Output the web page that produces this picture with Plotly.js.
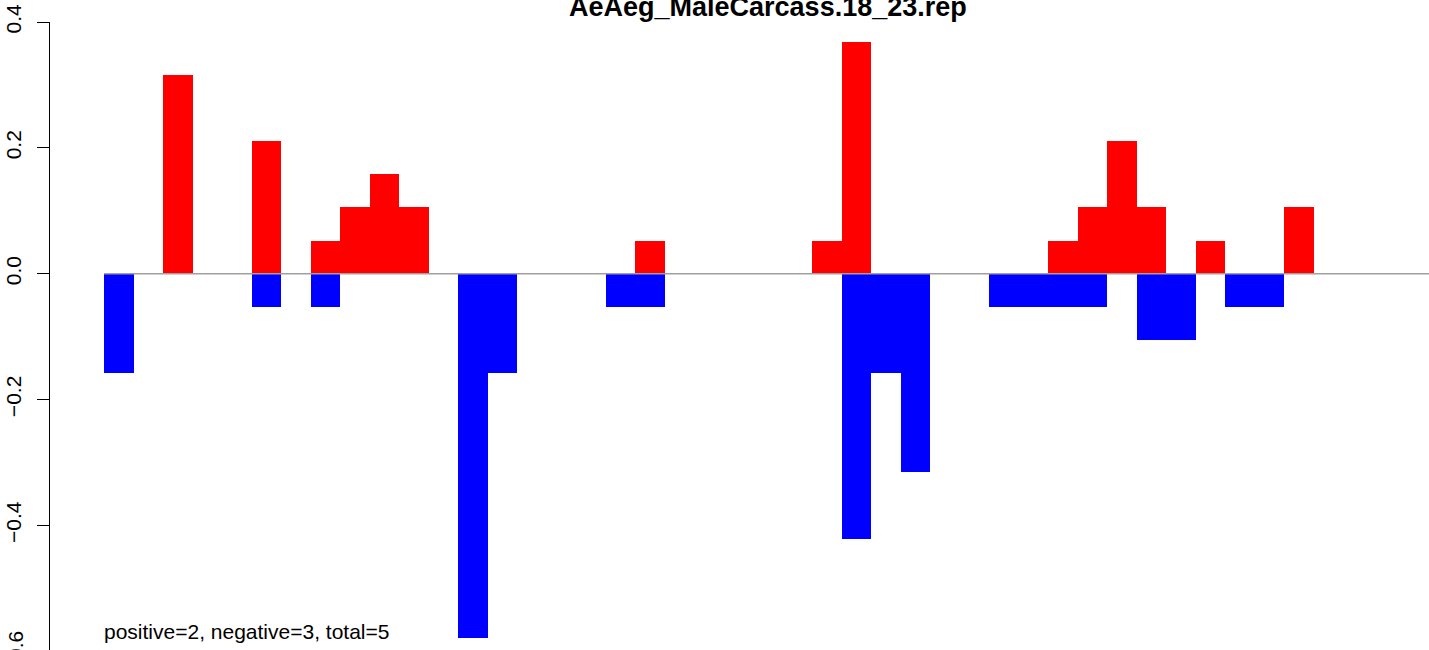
<!DOCTYPE html>
<html>
<head>
<meta charset="utf-8">
<script src="https://cdn.plot.ly/plotly-3.0.1.min.js"></script>
<style>html,body{margin:0;padding:0;background:#fff;}#chart{width:1429px;height:650px;}</style>
</head>
<body>
<div id="chart"></div>
<script>
// Bar positions (slot number along the x axis)
const redPositions  = [3, 6, 8, 9, 10, 11, 19, 25, 26, 33, 34, 35, 36, 38, 41];
const redValues     = [0.3158, 0.2105, 0.0526, 0.1053, 0.1579, 0.1053, 0.0526, 0.0526, 0.3684, 0.0526, 0.1053, 0.2105, 0.1053, 0.0526, 0.1053];
const bluePositions = [1, 6, 8, 13, 14, 18, 19, 26, 27, 28, 31, 32, 33, 34, 36, 37, 39, 40];
const blueValues    = [-0.1579, -0.0526, -0.0526, -0.5789, -0.1579, -0.0526, -0.0526, -0.4211, -0.1579, -0.3158, -0.0526, -0.0526, -0.0526, -0.0526, -0.1053, -0.1053, -0.0526, -0.0526];
const yTickVals  = [-0.4, -0.2, 0, 0.2, 0.4];
const yTickText  = ["\u22120.4", "\u22120.2", "0.0", "0.2", "0.4"];
const titleText  = "AeAeg_MaleCarcass.18_23.rep";
const noteText   = "positive=2, negative=3, total=5";
const lowTickText = "\u22120.6";

const font = "Liberation Sans, Arial, Helvetica, sans-serif";

const traces = [
  {type: "bar", x: redPositions, y: redValues, width: 1,
   marker: {color: "#ff0000", line: {width: 0}}, hoverinfo: "skip"},
  {type: "bar", x: bluePositions, y: blueValues, width: 1,
   marker: {color: "#0000ff", line: {width: 0}}, hoverinfo: "skip"}
];

const layout = {
  width: 1429, height: 650,
  margin: {l: 50, r: 0, t: 22, b: 0, pad: 0},
  paper_bgcolor: "#ffffff", plot_bgcolor: "#ffffff",
  showlegend: false,
  barmode: "overlay", bargap: 0,
  font: {family: font, color: "#000000"},
  xaxis: {range: [-1.3305, 45.415], visible: false, fixedrange: true},
  yaxis: {
    range: [-0.598, 0.4], tickmode: "array", tickvals: yTickVals, ticktext: yTickText,
    showline: true, linecolor: "#000000", linewidth: 1,
    ticks: "outside", ticklen: 12, tickwidth: 1, tickcolor: "#000000",
    tickangle: -90, ticklabelstandoff: 8,
    tickfont: {size: 21, family: font, color: "#000000"},
    showgrid: false, zeroline: false, fixedrange: true
  },
  shapes: [
    {type: "line", xref: "x", yref: "y", x0: 0.5, x1: 47, y0: 0, y1: 0,
     line: {color: "#a0a0a0", width: 1.5}, layer: "above"}
  ],
  annotations: [
    {text: "<b>" + titleText + "</b>", xref: "paper", yref: "paper",
     x: 0.5207, y: 1.024, xanchor: "center", yanchor: "middle", showarrow: false,
     font: {size: 27, family: font, color: "#000000"}},
    {text: noteText, xref: "paper", yref: "paper",
     x: 0.0377, y: 0.029, xanchor: "left", yanchor: "middle", showarrow: false,
     font: {size: 21, family: font, color: "#000000"}},
    {text: lowTickText, xref: "paper", yref: "paper",
     x: -0.0254, y: -0.0019, xanchor: "center", yanchor: "middle", showarrow: false,
     textangle: -90, font: {size: 21, family: font, color: "#000000"}}
  ]
};

Plotly.newPlot("chart", traces, layout, {staticPlot: true, displayModeBar: false});
</script>
</body>
</html>
